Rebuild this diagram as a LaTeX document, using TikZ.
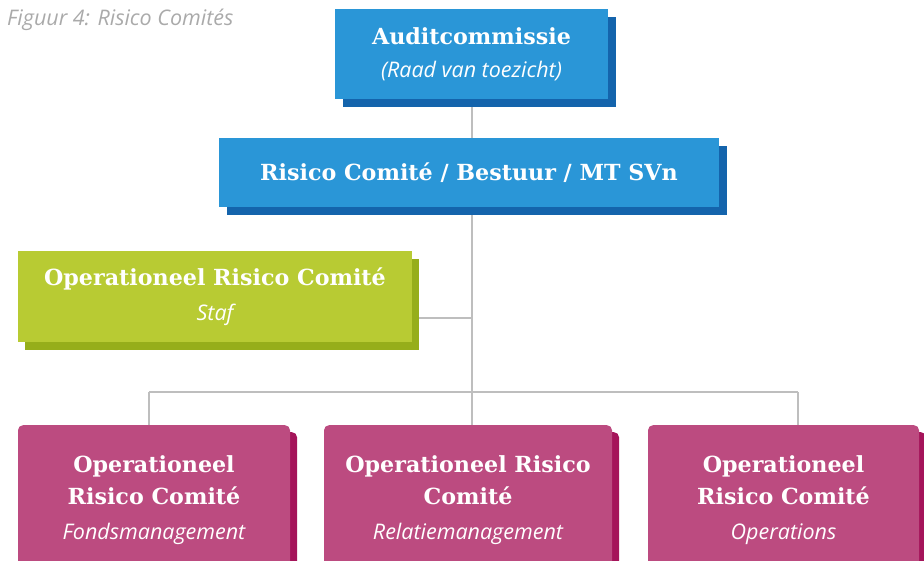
\documentclass[tikz,border=0pt]{standalone}
\usepackage{fontspec}
\setmainfont{Open Sans}
\newfontfamily\slabfont{DejaVu Serif}
\usepackage{tikz}
\usetikzlibrary{shadows, backgrounds}

\definecolor{auditblue}{RGB}{42,150,215}
\definecolor{auditshade}{RGB}{20,100,172}
\definecolor{stafgreen}{RGB}{184,203,51}
\definecolor{stafshade}{RGB}{150,174,26}
\definecolor{ormpink}{RGB}{188,75,128}
\definecolor{ormshade}{RGB}{165,20,90}
\definecolor{linegray}{RGB}{190,190,190}
\definecolor{captiongray}{RGB}{170,170,170}

\newcommand{\orgtitle}{\slabfont\bfseries\fontsize{22.2}{32}\selectfont}
\newcommand{\orgsub}{\normalfont\itshape\fontsize{21.5}{32}\selectfont}

\tikzset{
    orgbox/.style={rectangle, inner sep=0pt, text=white, align=center, font=\orgtitle},
    bluebox/.style={orgbox, fill=auditblue,
        drop shadow={shadow xshift=8pt, shadow yshift=-8pt, fill=auditshade, opacity=1}},
    greenbox/.style={orgbox, fill=stafgreen,
        drop shadow={shadow xshift=7pt, shadow yshift=-8pt, fill=stafshade, opacity=1}},
    pinkbox/.style={orgbox, fill=ormpink, rounded corners=5pt,
        minimum height=150pt, anchor=north,
        drop shadow={shadow xshift=7pt, shadow yshift=-7pt, fill=ormshade, opacity=1}},
    link/.style={draw=linegray, line width=1.4pt},
    caption/.style={text=captiongray, font=\itshape\fontsize{21.5}{24}\selectfont, inner sep=0pt}
}

\begin{document}
\begin{tikzpicture}[x=1pt, y=-1pt]
    \useasboundingbox (0,0) rectangle (924,561);

    \node[caption, anchor=base west] (fig) at (7,26) {Figuur 4: Risico Comités};

    % top of the tree
    \node[bluebox, minimum width=273pt, minimum height=90pt] (audit) at (471.5,54)
        {Auditcommissie\\[1pt]{\orgsub (Raad van toezicht)}};
    \node[bluebox, minimum width=500pt, minimum height=69pt] (risico) at (469,172.5)
        {Risico Comité / Bestuur / MT SVn};
    \node[greenbox, minimum width=394pt, minimum height=91pt] (staf) at (215,296.5)
        {Operationeel Risico Comité\\[3pt]{\orgsub Staf}};

    % committees
    \node[pinkbox, minimum width=272pt] (fonds) at (154,425)
        {Operationeel\\Risico Comité\\[3pt]{\orgsub Fondsmanagement}};
    \node[pinkbox, minimum width=288pt] (relatie) at (468,425)
        {Operationeel Risico\\Comité\\[3pt]{\orgsub Relatiemanagement}};
    \node[pinkbox, minimum width=271pt] (ops) at (783.5,425)
        {Operationeel\\Risico Comité\\[3pt]{\orgsub Operations}};

    \coordinate (hub) at (472,392);
    \coordinate (dropL) at (149,392);
    \coordinate (dropR) at (798,392);

    \begin{scope}[on background layer]
        \draw[link] (hub |- audit.south) -- (hub);
        \draw[link] ([yshift=-21.5pt]staf.east) -- ([yshift=-21.5pt]staf.east -| hub);
        \draw[link] (dropL) -- (dropR);
        \draw[link] (dropL) -- (dropL |- fonds.north);
        \draw[link] (hub) -- (hub |- relatie.north);
        \draw[link] (dropR) -- (dropR |- ops.north);
    \end{scope}
\end{tikzpicture}
\end{document}
